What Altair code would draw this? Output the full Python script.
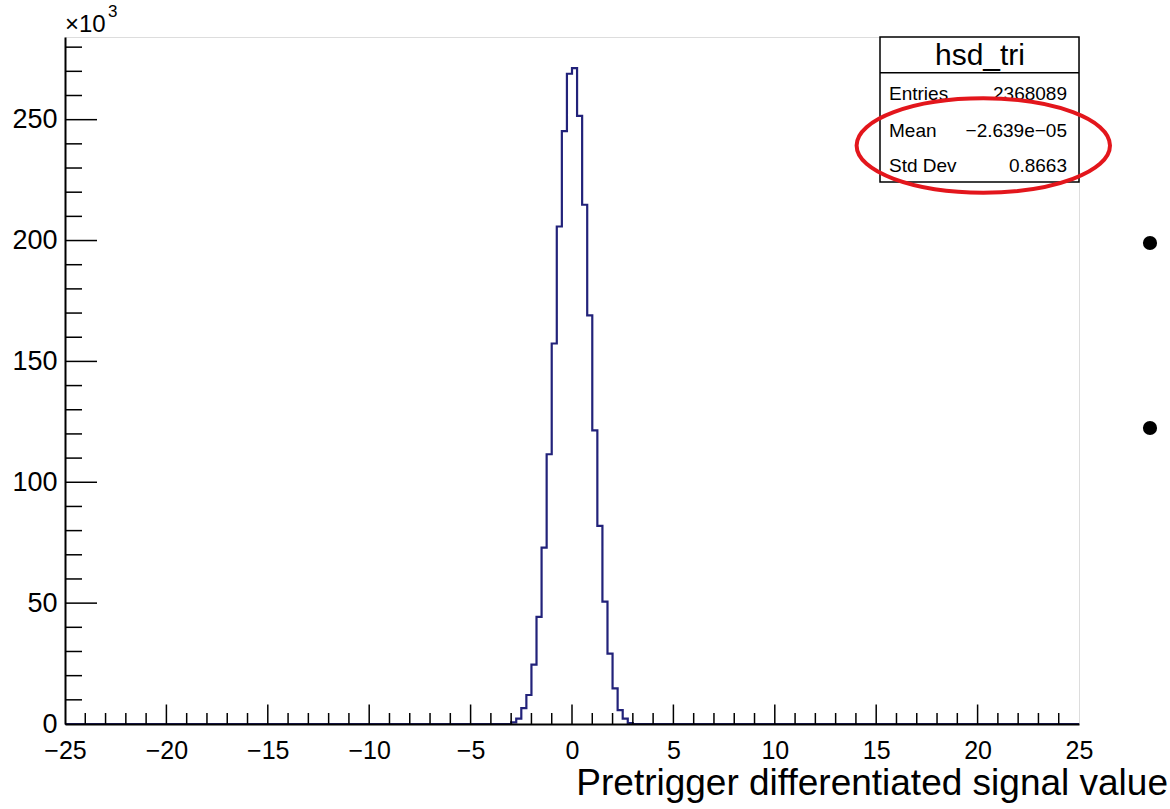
import altair as alt
import pandas as pd

# ---------------- data ----------------
X_MIN, X_MAX = -25.0, 25.0
BIN_WIDTH = 0.25
FIRST_FILLED_EDGE = -3.0
# bin contents (thousands) of the filled bins, starting at FIRST_FILLED_EDGE
counts_k = [0.7, 2.2, 6.6, 12.0, 24.6, 44.3, 73.0, 111.6, 157.4, 205.8, 245.3, 269.0,
            271.3, 251.6, 214.8, 169.0, 121.5, 82.0, 50.6, 29.1, 14.7, 5.7, 2.2, 0.4]
Y_MAX = 284.2

hist_name = "hsd_tri"
stat_labels = ["Entries", "Mean", "Std Dev"]
stat_values = ["2368089", "\u22122.639e\u221205", "0.8663"]
x_title = "Pretrigger differentiated signal value"
y_exponent_base = "\u00d710"
y_exponent = "3"

x_label_values = [-25, -20, -15, -10, -5, 0, 5, 10, 15, 20, 25]
y_label_values = [0, 50, 100, 150, 200, 250]
x_major_ticks = [-20, -15, -10, -5, 0, 5, 10, 15, 20]
x_minor_ticks = [v for v in range(-24, 25) if v % 5 != 0]
y_major_ticks = [50, 100, 150, 200, 250]
y_minor_ticks = [v for v in range(10, 281, 10) if v % 50 != 0]

# ---------------- build tables ----------------
n_bins = int(round((X_MAX - X_MIN) / BIN_WIDTH))
first = int(round((FIRST_FILLED_EDGE - X_MIN) / BIN_WIDTH))
contents = [0.0] * n_bins
for i, c in enumerate(counts_k):
    contents[first + i] = c
edges = [X_MIN + i * BIN_WIDTH for i in range(n_bins + 1)]
hist_df = pd.DataFrame({"x": edges, "y": contents + [0.0]})

W, H = 1014, 687
FONT = "Liberation Sans"
NAVY = "#22227a"
RED = "#e3161c"

xs = alt.Scale(domain=[X_MIN, X_MAX], nice=False, zero=False)
ys = alt.Scale(domain=[0, Y_MAX], nice=False)
x_axis = alt.Axis(values=x_label_values, ticks=False, grid=False, domain=True,
                  domainColor="black", domainWidth=2, labelFontSize=25, labelFont=FONT,
                  labelColor="black", labelPadding=14, labelFlush=False,
                  labelOverlap=False, title=None, zindex=1)
y_axis = alt.Axis(values=y_label_values, ticks=False, grid=False, domain=True,
                  domainColor="black", domainWidth=2, labelFontSize=27, labelFont=FONT,
                  labelColor="black", labelPadding=8, labelFlush=False,
                  labelOverlap=False, title=None, zindex=1)

hist = alt.Chart(hist_df).mark_line(
    interpolate="step-after", color=NAVY, strokeWidth=2.2
).encode(
    x=alt.X("x:Q", scale=xs, axis=x_axis),
    y=alt.Y("y:Q", scale=ys, axis=y_axis),
)


def xticks(vals, length):
    return alt.Chart(pd.DataFrame({"v": vals})).mark_rule(
        color="black", strokeWidth=1.5
    ).encode(
        x=alt.X("v:Q", scale=xs, axis=x_axis),
        y=alt.value(H),
        y2=alt.value(H - length),
    )


def yticks(vals, length):
    return alt.Chart(pd.DataFrame({"v": vals})).mark_rule(
        color="black", strokeWidth=1.5
    ).encode(
        y=alt.Y("v:Q", scale=ys, axis=y_axis),
        x=alt.value(0),
        x2=alt.value(length),
    )


def one(text):
    return pd.DataFrame({"t": [text]})


def label(text, x, y, size, align="left"):
    return alt.Chart(one(text)).mark_text(
        font=FONT, fontSize=size, color="black", align=align, baseline="alphabetic"
    ).encode(text="t:N", x=alt.value(x), y=alt.value(y))


layers = [
    hist,
    xticks(x_minor_ticks, 11),
    xticks(x_major_ticks, 19.5),
    yticks(y_minor_ticks, 17),
    yticks(y_major_ticks, 32),
]

# statistics box
box = alt.Chart(one("box")).mark_rect(
    fill="white", stroke="black", strokeWidth=1.5
).encode(x=alt.value(815), x2=alt.value(1014), y=alt.value(0), y2=alt.value(145))
divider = alt.Chart(one("div")).mark_rule(color="black", strokeWidth=1.5).encode(
    x=alt.value(815), x2=alt.value(1014), y=alt.value(35.7))
layers += [box, divider, label(hist_name, 915, 28, 30, "center")]
row_y = [63, 100, 135]
for lab, val, yy in zip(stat_labels, stat_values, row_y):
    layers.append(label(lab, 824, yy, 19, "left"))
    layers.append(label(val, 1002, yy, 19, "right"))

# red ellipse annotation
k = 0.3725
c = 0.5523
ellipse_path = (
    f"M -1 0 C -1 {-c*k:.4f} {-c} {-k} 0 {-k} "
    f"C {c} {-k} 1 {-c*k:.4f} 1 0 "
    f"C 1 {c*k:.4f} {c} {k} 0 {k} "
    f"C {-c} {k} -1 {c*k:.4f} -1 0 Z"
)
ellipse = alt.Chart(one("e")).mark_point(
    shape=ellipse_path, size=253.4 ** 2, filled=False, color=RED,
    strokeWidth=4, opacity=1
).encode(x=alt.value(918.3), y=alt.value(108.5))


def bullet(y):
    return alt.Chart(one("b")).mark_point(
        shape="circle", filled=True, size=201, color="black", opacity=1
    ).encode(x=alt.value(1085), y=alt.value(y))


layers += [
    ellipse,
    bullet(206),
    bullet(391),
    label(x_title, 1103, 758, 37, "right"),
    label(y_exponent_base, 0, -5, 24, "left"),
    label(y_exponent, 43, -20, 17, "left"),
]

chart = alt.layer(*layers).properties(
    width=W,
    height=H,
    padding={"left": 65, "top": 37, "right": 91, "bottom": 85},
    autosize=alt.AutoSizeParams(type="none"),
    background="white",
).configure_view(
    stroke="black", strokeWidth=1.5
).configure(font=FONT)

chart.save("out.html", embed_options={"renderer": "svg", "actions": False})
